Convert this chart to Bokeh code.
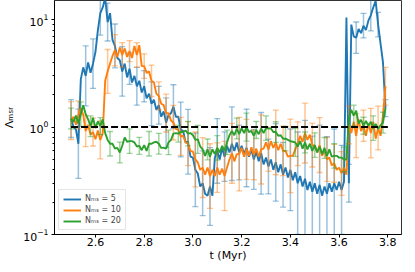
import numpy as np
from bokeh.plotting import figure
from bokeh.models import Range1d, FixedTicker, Legend, LegendItem
from bokeh.embed import file_html
from bokeh.resources import INLINE

# ---- data -------------------------------------------------------------
t = np.round(2.50 + 0.01 * np.arange(130), 2)   # time samples (Myr)

lam_n5 = np.array([
    1.2, 1.0, 0.95, 0.7, 2.8, 3.6, 3.0, 4.0, 3.2, 3.9,
    5.0, 8.0, 11.5, 13.0, 16.0, 9.5, 11.5, 6.5, 5.7, 4.4,
    4.2, 3.3, 3.9, 2.9, 3.5, 2.6, 3.0, 2.4, 2.7, 2.1,
    2.4, 1.85, 2.05, 1.65, 1.8, 1.45, 1.6, 1.25, 1.4, 1.1,
    1.3, 1.35, 1.55, 1.25, 1.25, 0.95, 0.92, 0.72, 0.73, 0.53,
    0.52, 0.4, 0.37, 0.28, 0.3, 0.24, 0.23, 0.28, 0.23, 0.52,
    0.6, 0.5, 0.64, 0.53, 0.67, 0.58, 0.7, 0.6, 0.72, 0.58,
    0.67, 0.56, 0.64, 0.53, 0.62, 0.5, 0.59, 0.48, 0.57, 0.45,
    0.52, 0.43, 0.5, 0.4, 0.47, 0.38, 0.45, 0.36, 0.42, 0.34,
    0.4, 0.32, 0.38, 0.3, 0.35, 0.28, 0.33, 0.26, 0.31, 0.25,
    0.3, 0.24, 0.29, 0.23, 0.28, 0.24, 0.3, 0.25, 0.3, 0.26,
    0.31, 0.26, 0.31, 10.5, 0.3, 9.0, 7.0, 6.8, 8.2, 7.5,
    8.8, 8.0, 9.8, 11.0, 13.0, 15.0, 9.0, 6.0, 4.0, 1.5,
])

lam_n10 = np.array([
    1.15, 1.25, 1.05, 1.3, 1.5, 1.3, 0.92, 1.05, 0.85, 0.9,
    0.77, 0.93, 0.76, 0.88, 2.7, 3.3, 3.9, 4.6, 5.2, 4.5,
    5.5, 4.7, 5.4, 4.5, 5.1, 4.4, 5.7, 4.7, 5.8, 3.7,
    3.7, 3.2, 3.3, 2.7, 2.6, 2.05, 1.95, 1.65, 1.6, 1.35,
    1.35, 1.15, 1.1, 0.96, 0.95, 0.82, 0.83, 0.72, 0.7, 0.6,
    0.59, 0.5, 0.47, 0.4, 0.42, 0.36, 0.42, 0.35, 0.4, 0.35,
    0.42, 0.36, 0.41, 0.35, 0.42, 0.5, 0.57, 0.48, 0.56, 0.56,
    0.64, 0.53, 0.62, 0.54, 0.65, 0.55, 0.63, 0.53, 0.62, 0.63,
    0.72, 0.62, 0.74, 0.64, 0.72, 0.61, 0.7, 0.6, 0.6, 0.53,
    0.54, 0.54, 0.62, 0.7, 0.83, 0.73, 0.88, 0.76, 0.85, 0.68,
    0.67, 0.58, 0.68, 0.54, 0.62, 0.5, 0.52, 0.44, 0.46, 0.4,
    0.42, 0.37, 0.42, 0.36, 1.05, 0.88, 1.12, 0.83, 1.18, 0.92,
    1.03, 0.83, 1.08, 0.88, 1.12, 0.78, 0.98, 0.83, 1.3, 2.4,
])

lam_n20 = np.array([
    1.2, 1.12, 1.28, 1.08, 1.32, 1.6, 1.32, 1.18, 1.02, 1.22,
    0.98, 1.13, 1.02, 1.18, 0.88, 0.76, 0.7, 0.7, 0.63, 0.64,
    0.58, 0.67, 0.8, 0.73, 0.74, 0.74, 0.72, 0.66, 0.67, 0.61,
    0.68, 0.6, 0.7, 0.7, 0.72, 0.73, 0.7, 0.64, 0.64, 0.63,
    0.72, 0.76, 0.87, 0.88, 0.87, 0.9, 0.9, 0.93, 0.87, 0.88,
    0.84, 0.76, 0.77, 0.66, 0.62, 0.54, 0.62, 0.53, 0.62, 0.56,
    0.64, 0.58, 0.67, 0.6, 0.72, 0.84, 0.92, 0.84, 0.97, 0.86,
    0.98, 0.88, 1.0, 0.9, 0.92, 0.83, 0.94, 0.86, 0.97, 0.88,
    0.98, 0.97, 0.97, 0.9, 0.9, 0.83, 0.84, 0.78, 0.78, 0.76,
    0.74, 0.73, 0.72, 0.66, 0.74, 0.63, 0.72, 0.62, 0.7, 0.6,
    0.68, 0.58, 0.66, 0.56, 0.64, 0.54, 0.62, 0.53, 0.54, 0.54,
    0.52, 0.52, 0.5, 0.5, 1.2, 1.45, 1.28, 1.42, 1.08, 1.17,
    1.03, 1.14, 1.03, 1.12, 0.98, 1.07, 0.96, 1.04, 1.1, 1.5,
])

# multiplicative error factors, one per error bar (every 3rd / 3rd / 4th sample)
err_n5 = np.array([
    1.5, 2.1, 1.9, 1.7, 1.6, 1.5, 1.6, 1.7, 1.4, 1.5,
    1.4, 1.6, 1.5, 1.7, 1.6, 1.8, 2.0, 2.2, 2.0, 2.3,
    2.0, 1.7, 2.2, 1.8, 2.3, 1.9, 2.4, 1.8, 2.3, 2.0,
    2.4, 3.0, 3.5, 3.3, 3.6, 3.4, 3.2, 2.6, 1.5, 1.4,
    1.3, 1.4, 1.3, 1.2,
])
err_n10 = np.array([
    1.5, 1.35, 1.4, 1.35, 1.5, 1.6, 1.4, 1.3, 1.25, 1.3,
    1.3, 1.4, 1.35, 1.5, 1.45, 1.5, 1.6, 1.8, 1.9, 2.0,
    1.7, 2.1, 1.9, 2.2, 1.9, 1.7, 2.1, 1.6, 2.0, 1.7,
    2.2, 1.6, 1.9, 1.6, 1.8, 1.6, 1.5, 1.6, 1.5, 1.6,
    1.4, 1.7, 1.6, 1.5,
])
err_n20 = np.array([
    1.25, 1.3, 1.25, 1.2, 1.3, 1.25, 1.3, 1.2, 1.3, 1.25,
    1.3, 1.2, 1.3, 1.35, 1.25, 1.3, 1.3, 1.25, 1.35, 1.2,
    1.3, 1.25, 1.3, 1.35, 1.25, 1.3, 1.25, 1.3, 1.3, 1.25,
    1.2, 1.3, 1.25,
])

series_labels = ["Nₘₛ = 5", "Nₘₛ = 10", "Nₘₛ = 20"]
ref_t = [2.5, 3.8]
ref_level = [1.0, 1.0]
xticks = [2.6, 2.8, 3.0, 3.2, 3.4, 3.6, 3.8]
xtick_labels = ["2.6", "2.8", "3.0", "3.2", "3.4", "3.6", "3.8"]

# ---- figure -----------------------------------------------------------
FONT = "DejaVu Sans"
p = figure(width=407, height=264, y_axis_type="log",
           x_range=Range1d(2.432, 3.856), y_range=Range1d(0.1, 15.1),
           output_backend="svg", toolbar_location=None,
           min_border_left=45, min_border_right=6,
           min_border_top=0, min_border_bottom=30)
p.xgrid.grid_line_color = None
p.ygrid.grid_line_color = None
p.outline_line_color = "#333333"
p.outline_line_width = 1
p.background_fill_color = "white"

colors = ["#1f77b4", "#ff7f0e", "#2ca02c"]
steps = [3, 3, 4]
items = []
for vals, errs, step, color, lab in zip([lam_n5, lam_n10, lam_n20],
                                        [err_n5, err_n10, err_n20],
                                        steps, colors, series_labels):
    idx = np.arange(0, len(t), step)[:len(errs)]
    bt = t[idx]
    bv = vals[idx]
    lo = bv / errs
    hi = bv * errs
    p.segment(bt, lo, bt, hi, line_color=color, line_alpha=0.45, line_width=1.5)
    p.scatter(bt, lo, marker="dash", size=6, line_color=color, line_alpha=0.45, line_width=1.3)
    p.scatter(bt, hi, marker="dash", size=6, line_color=color, line_alpha=0.45, line_width=1.3)
    r = p.line(t, vals, line_color=color, line_width=1.9)
    items.append(LegendItem(label=lab, renderers=[r]))

p.line(ref_t, ref_level, line_color="black", line_width=2, line_dash="7 3")

legend = Legend(items=items, location="bottom_left")
legend.label_text_font = FONT
legend.label_text_font_size = "8px"
legend.glyph_width = 18
legend.glyph_height = 8
legend.label_height = 9
legend.label_standoff = 4
legend.spacing = 2
legend.padding = 4
legend.margin = 4
legend.border_line_color = "#cccccc"
legend.background_fill_alpha = 0.85
p.add_layout(legend)

for ax in (p.xaxis[0], p.yaxis[0]):
    ax.axis_line_color = "black"
    ax.major_tick_line_color = "black"
    ax.major_tick_out = 3
    ax.major_tick_in = 0
    ax.minor_tick_out = 2
    ax.minor_tick_in = 0
    ax.major_label_text_font = FONT
    ax.major_label_text_font_size = "11px"
    ax.major_label_text_color = "black"
    ax.axis_label_text_font = FONT
    ax.axis_label_text_font_size = "11px"
    ax.axis_label_text_font_style = "normal"
    ax.axis_label_text_color = "black"

p.xaxis.ticker = FixedTicker(ticks=xticks)
p.xaxis.major_label_overrides = dict(zip(xticks, xtick_labels))
p.xaxis.minor_tick_line_color = None
p.xaxis.axis_label = "t (Myr)"
p.xaxis.axis_label_standoff = 0
p.xaxis.major_label_standoff = 0
p.yaxis.axis_label = "Λₘₛᵣ"
p.yaxis.axis_label_standoff = 4
p.yaxis.major_label_standoff = 3

open("out.html", "w").write(file_html(p, INLINE))
